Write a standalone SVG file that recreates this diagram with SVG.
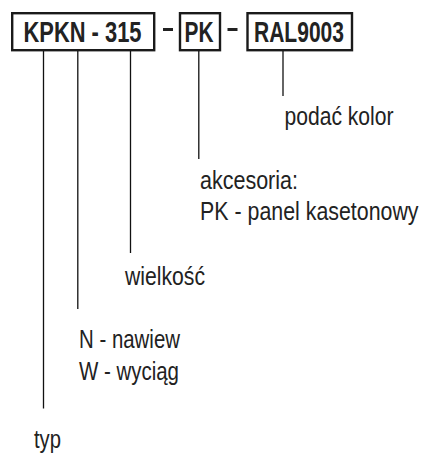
<svg xmlns="http://www.w3.org/2000/svg" width="424" height="455" viewBox="0 0 424 455">
<style>
.box{fill:#fff;stroke:#1a1a1a;stroke-width:2.4}
.code{font-family:"Liberation Sans Narrow","Liberation Sans",Arial,sans-serif;font-weight:bold;font-size:29px;fill:#222}
.lbl{font-family:"Liberation Sans Narrow","Liberation Sans",Arial,sans-serif;font-size:25px;fill:#222}
.ln{stroke:#111;stroke-width:1.3;fill:none}
.dash{fill:#222}
</style>
<rect width="424" height="455" fill="#fff"/>
<g id="code-kpkn">
<rect class="box" x="12.2" y="13.2" width="142" height="37"/>
<text class="code" x="23.5" y="41.7" textLength="118" lengthAdjust="spacingAndGlyphs">KPKN - 315</text>
</g>
<g id="sep1"><rect class="dash" x="163" y="28" width="10" height="3"/></g>
<g id="code-pk">
<rect class="box" x="180" y="13.2" width="40" height="37"/>
<text class="code" x="184.5" y="41.7" textLength="29" lengthAdjust="spacingAndGlyphs">PK</text>
</g>
<g id="sep2"><rect class="dash" x="227.5" y="28" width="10" height="3"/></g>
<g id="code-ral">
<rect class="box" x="247.5" y="13.2" width="104.5" height="37"/>
<text class="code" x="254" y="41.7" textLength="90" lengthAdjust="spacingAndGlyphs">RAL9003</text>
</g>
<g id="connectors">
<line class="ln" x1="43.5" y1="51" x2="43.5" y2="408.5"/>
<line class="ln" x1="77.8" y1="51" x2="77.8" y2="309"/>
<line class="ln" x1="130.5" y1="51" x2="130.5" y2="253"/>
<line class="ln" x1="198.8" y1="51" x2="198.8" y2="159"/>
<line class="ln" x1="283" y1="51" x2="283" y2="96"/>
</g>
<g id="label-kolor"><text class="lbl" x="284.5" y="125" textLength="109" lengthAdjust="spacingAndGlyphs">podać kolor</text></g>
<g id="label-akcesoria">
<text class="lbl" x="200" y="188.5" textLength="98" lengthAdjust="spacingAndGlyphs">akcesoria:</text>
<text class="lbl" transform="translate(200,220) scale(0.855,1)">PK - panel kasetonowy</text>
</g>
<g id="label-wielkosc"><text class="lbl" x="125" y="285" textLength="80" lengthAdjust="spacingAndGlyphs">wielkość</text></g>
<g id="label-typ2">
<text class="lbl" x="79" y="348.3" textLength="101" lengthAdjust="spacingAndGlyphs">N - nawiew</text>
<text class="lbl" x="79" y="380" textLength="100" lengthAdjust="spacingAndGlyphs">W - wyciąg</text>
</g>
<g id="label-typ"><text class="lbl" x="34" y="448" textLength="27" lengthAdjust="spacingAndGlyphs">typ</text></g>
</svg>
